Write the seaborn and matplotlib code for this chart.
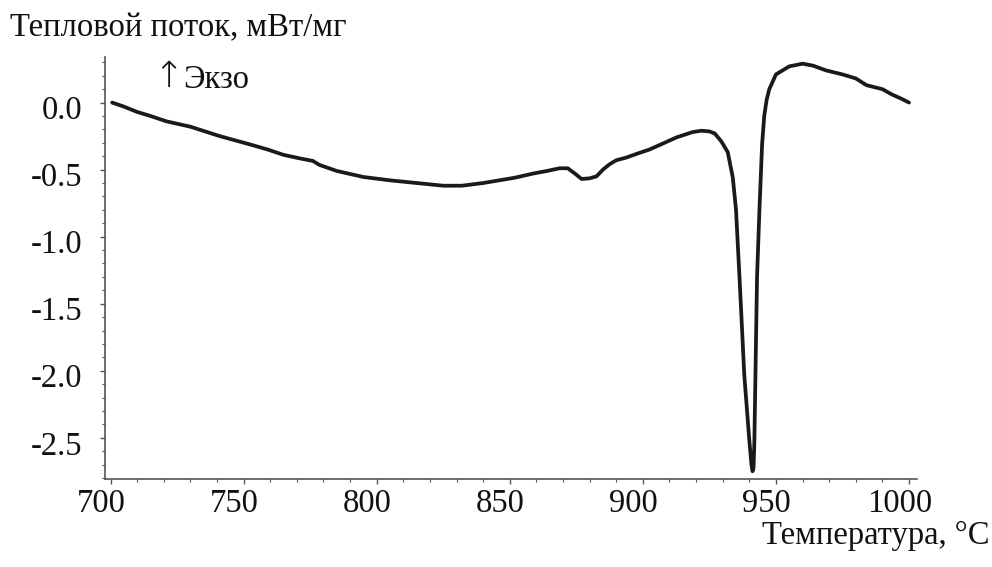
import matplotlib
matplotlib.use("Agg")
import matplotlib.pyplot as plt
import seaborn as sns
import pandas as pd
from matplotlib.ticker import MultipleLocator, FormatStrFormatter
from matplotlib.transforms import ScaledTranslation

temperature = [700.6, 705, 710, 715, 721, 730, 741, 752, 759, 765, 772, 776, 778.5,
               785, 795, 805, 815, 825, 832, 840, 846, 852, 858.6, 864, 868.7, 871.8,
               874.5, 877, 880, 882.6, 885, 887.5, 890, 893.8, 898, 902.5, 907, 912.6,
               918.7, 922, 925, 927, 929.5, 931.9, 933.8, 935.0, 936.3, 938.1, 940.0,
               940.8, 941.2, 941.6, 941.9, 942.3, 942.9, 943.8, 944.8, 945.6, 946.5,
               947.5, 950, 955, 960, 964, 968.8, 975, 980, 984, 990, 993.6, 997, 1000]
heat_flow = [0.00, -0.03, -0.07, -0.10, -0.14, -0.18, -0.25, -0.31, -0.35, -0.39, -0.42,
             -0.435, -0.465, -0.51, -0.555, -0.58, -0.60, -0.62, -0.62, -0.60, -0.58,
             -0.56, -0.53, -0.51, -0.49, -0.49, -0.53, -0.57, -0.565, -0.55, -0.50,
             -0.46, -0.43, -0.41, -0.38, -0.35, -0.31, -0.26, -0.22, -0.21, -0.215,
             -0.23, -0.29, -0.37, -0.56, -0.80, -1.30, -2.03, -2.52, -2.70, -2.75,
             -2.72, -2.52, -2.03, -1.30, -0.80, -0.31, -0.10, 0.02, 0.10, 0.21, 0.27,
             0.29, 0.275, 0.24, 0.21, 0.18, 0.13, 0.10, 0.06, 0.03, 0.00]

x_ticks = [700, 750, 800, 850, 900, 950, 1000]
y_ticks = [0.0, -0.5, -1.0, -1.5, -2.0, -2.5]

title_text = "Тепловой поток, мВт/мг"
xlabel_text = "Температура, °C"
exo_arrow = "↑"
exo_text = "Экзо"

sns.set_style("ticks")
plt.rcParams['font.family'] = ['Liberation Serif', 'DejaVu Serif']
plt.rcParams['axes.unicode_minus'] = False

FS = 23.5

df = pd.DataFrame({"T": temperature, "Q": heat_flow})

fig = plt.figure(figsize=(9.92, 5.67), dpi=100)
ax = fig.add_axes([0.1058, 0.1560, 0.8186, 0.7435])

sns.lineplot(data=df, x="T", y="Q", ax=ax, color="#1a1a1a", linewidth=2.7,
             estimator=None, sort=False)

ax.set_xlim(697.9, 1003)
ax.set_ylim(-2.804, 0.34)
ax.set_xticks(x_ticks)
ax.set_yticks(y_ticks)
ax.xaxis.set_minor_locator(MultipleLocator(10))
ax.yaxis.set_minor_locator(MultipleLocator(0.1))
ax.yaxis.set_major_formatter(FormatStrFormatter('%.1f'))
ax.set_xlabel("")
ax.set_ylabel("")

for side in ["top", "right"]:
    ax.spines[side].set_visible(False)
for side in ["left", "bottom"]:
    ax.spines[side].set_color("#555555")
    ax.spines[side].set_linewidth(1.2)

ax.tick_params(axis='both', which='major', direction='out', length=3.5, width=1,
               color="#555555", labelsize=FS, labelcolor="#111111")
ax.tick_params(axis='both', which='minor', direction='out', length=2.2, width=0.8,
               color="#555555")
ax.tick_params(axis='y', which='major', pad=13)
ax.tick_params(axis='x', which='major', pad=4)

# small offsets of tick labels as in the reference
fig.canvas.draw()
for lab in ax.get_xticklabels():
    lab.set_transform(lab.get_transform() + ScaledTranslation(-9.5 / 100, 0, fig.dpi_scale_trans))
for lab in ax.get_yticklabels():
    lab.set_transform(lab.get_transform() + ScaledTranslation(0, -5 / 100, fig.dpi_scale_trans))

ax.text(0.078, 0.952, exo_arrow, transform=ax.transAxes, fontsize=26,
        family=['DejaVu Sans'], fontweight='light', ha='center', va='center',
        color="#111111")
ax.text(0.096, 0.945, exo_text, transform=ax.transAxes, fontsize=FS,
        ha='left', va='center', color="#111111")

fig.text(0.010, 1 - 28 / 567, title_text, fontsize=FS, ha='left', va='center',
         color="#111111")
fig.text(0.997, 1 - 536 / 567, xlabel_text, fontsize=FS, ha='right', va='center',
         color="#111111")

fig.savefig("out.png", dpi=100)
